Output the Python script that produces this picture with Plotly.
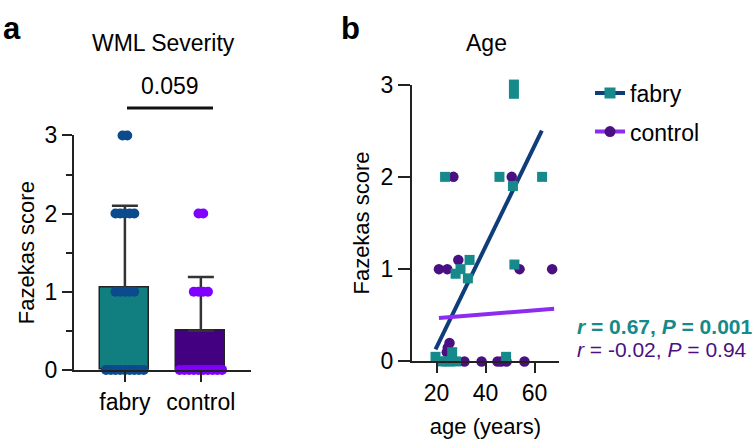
import plotly.graph_objects as go

FONT = "Liberation Sans, Arial, Helvetica, sans-serif"

# ---------- Panel a data ----------
groups = ["fabry", "control"]
group_mean = [1.05, 0.5]
group_sd = [1.05, 0.69]
fabry_scores_a = [3, 3, 2, 2, 2, 2, 2, 1, 1, 1, 1, 1, 0, 0, 0, 0, 0, 0, 0, 0, 0]
control_scores_a = [2, 2, 1, 1, 1, 1, 0, 0, 0, 0, 0, 0, 0, 0, 0, 0]
p_value_text = "0.059"

# ---------- Panel b data ----------
fabry_age = [51.6, 51.6, 23.5, 45.7, 51.2, 63.1, 33.5, 29.8, 27.8, 32.8, 51.8,
             19.6, 48.4, 26.4, 22.0, 24.0, 25.5, 28.0]
fabry_fz = [3.0, 2.9, 2.0, 2.0, 1.9, 2.0, 1.1, 1.0, 0.95, 0.9, 1.05,
            0.05, 0.05, 0.1, 0.0, 0.0, 0.0, 0.0]
control_age = [26.9, 50.7, 21.0, 24.4, 28.9, 53.9, 67.2, 25.3, 24.6, 24.2,
               31.4, 38.4, 44.9, 46.4, 48.6, 55.9]
control_fz = [2.0, 2.0, 1.0, 1.0, 1.1, 1.0, 1.0, 0.2, 0.15, 0.1,
              0.0, 0.0, 0.0, 0.0, 0.0, 0.0]
fabry_fit_x = [19.6, 63.0]
fabry_fit_y = [0.13, 2.5]
control_fit_x = [21.0, 68.0]
control_fit_y = [0.47, 0.57]
fabry_stats = "<b><i>r</i> = 0.67, <i>P</i> = 0.001</b>"
control_stats = "<i>r</i> = -0.02, <i>P</i> = 0.94"

# colours
C_FAB_BAR = "#117f7f"
C_CON_BAR = "#430080"
C_FAB_DOT = "#0b4a8c"
C_CON_DOT = "#8000ff"
C_FAB_SQ = "#168a8a"
C_FAB_LINE = "#0f3d7a"
C_CON_PT = "#4a1082"
C_CON_LINE = "#8c2cf0"
AX = "#222222"
TXT = "#000000"


def swarm(scores, center, step=0.062):
    xs, ys = [], []
    levels = {}
    for s in scores:
        levels.setdefault(s, 0)
        levels[s] += 1
    for s, n in levels.items():
        for i in range(n):
            xs.append(center + (i - (n - 1) / 2) * step)
            ys.append(s)
    return xs, ys


fig = go.Figure()

# bars with error bars
fig.add_trace(go.Bar(
    x=[0, 1], y=group_mean, width=0.645,
    marker=dict(color=[C_FAB_BAR, C_CON_BAR], line=dict(color=AX, width=1.5)),
    error_y=dict(type="data", symmetric=False, array=group_sd,
                 arrayminus=[0, 0], color="#333333", thickness=2.5, width=13),
    xaxis="x", yaxis="y", showlegend=False, cliponaxis=False,
))
fx, fy = swarm(fabry_scores_a, 0)
fig.add_trace(go.Scatter(x=fx, y=fy, mode="markers",
                         marker=dict(color=C_FAB_DOT, size=10, line=dict(width=0)),
                         xaxis="x", yaxis="y", showlegend=False, cliponaxis=False))
cx, cy = swarm(control_scores_a, 1)
fig.add_trace(go.Scatter(x=cx, y=cy, mode="markers",
                         marker=dict(color=C_CON_DOT, size=10, line=dict(width=0)),
                         xaxis="x", yaxis="y", showlegend=False, cliponaxis=False))

# panel b
fig.add_trace(go.Scatter(x=fabry_fit_x, y=fabry_fit_y, mode="lines",
                         line=dict(color=C_FAB_LINE, width=4),
                         xaxis="x2", yaxis="y2", showlegend=False))
fig.add_trace(go.Scatter(x=control_fit_x, y=control_fit_y, mode="lines",
                         line=dict(color=C_CON_LINE, width=4),
                         xaxis="x2", yaxis="y2", showlegend=False))
fig.add_trace(go.Scatter(x=control_age, y=control_fz, mode="markers",
                         marker=dict(color=C_CON_PT, size=10.5, symbol="circle", line=dict(width=0)),
                         xaxis="x2", yaxis="y2", showlegend=False, cliponaxis=False))
fig.add_trace(go.Scatter(x=fabry_age, y=fabry_fz, mode="markers",
                         marker=dict(color=C_FAB_SQ, size=10, symbol="square", line=dict(width=0)),
                         xaxis="x2", yaxis="y2", showlegend=False, cliponaxis=False))
# legend entries (two legends so each row can be placed)
fig.add_trace(go.Scatter(x=[None], y=[None], mode="lines+markers", name="fabry",
                         line=dict(color=C_FAB_LINE, width=4),
                         marker=dict(color=C_FAB_SQ, size=11, symbol="square"),
                         xaxis="x2", yaxis="y2", legend="legend"))
fig.add_trace(go.Scatter(x=[None], y=[None], mode="lines+markers", name="control",
                         line=dict(color=C_CON_LINE, width=4),
                         marker=dict(color=C_CON_PT, size=11, symbol="circle"),
                         xaxis="x2", yaxis="y2", legend="legend2"))

W, H = 756, 446
tickfont = dict(family=FONT, size=23, color=TXT)
axis_common = dict(showline=True, linecolor=AX, linewidth=2, ticks="outside",
                   tickcolor=AX, tickwidth=2, showgrid=False, zeroline=False,
                   tickfont=tickfont)
title_font = dict(family=FONT, size=22, color=TXT)
legend_common = dict(xanchor="left", yanchor="middle",
                     font=dict(family=FONT, size=23, color=TXT),
                     bgcolor="rgba(0,0,0,0)", itemwidth=30)

fig.update_layout(
    width=W, height=H, margin=dict(l=0, r=0, t=0, b=0),
    paper_bgcolor="white", plot_bgcolor="white",
    font=dict(family=FONT, color=TXT),
    xaxis=dict(domain=[74 / W, 251 / W], range=[-0.67, 1.66],
               tickmode="array", tickvals=[0, 1], ticktext=groups, ticklen=10,
               anchor="y", **axis_common),
    yaxis=dict(domain=[1 - 379 / H, 1 - 130 / H], range=[0, 3],
               tickmode="array", tickvals=[0, 1, 2, 3], ticklen=10,
               minor=dict(tickmode="array", tickvals=[0.5, 1.5, 2.5], ticklen=6,
                          tickcolor=AX, tickwidth=2, ticks="outside"),
               title=dict(text="Fazekas score", font=title_font, standoff=4),
               anchor="x", **axis_common),
    xaxis2=dict(domain=[412 / W, 559 / W], range=[10, 70],
                tickmode="array", tickvals=[20, 40, 60], ticklen=10,
                title=dict(text="age (years)", font=title_font, standoff=14),
                anchor="y2", **axis_common),
    yaxis2=dict(domain=[1 - 370 / H, 1 - 76 / H], range=[0, 3],
                tickmode="array", tickvals=[0, 1, 2, 3], ticklen=12,
                title=dict(text="Fazekas score", font=title_font, standoff=5),
                anchor="x2", **axis_common),
    legend=dict(x=590 / W, y=1 - 85 / H, **legend_common),
    legend2=dict(x=590 / W, y=1 - 126 / H, **legend_common),
    bargap=0,
)

fig.add_shape(type="line", xref="paper", yref="paper",
              x0=127 / W, x1=213 / W, y0=1 - 101 / H, y1=1 - 101 / H,
              line=dict(color="#111", width=3))

annots = [
    dict(text="<b>a</b>", x=1 / W, y=1 - 16 / H, size=31, color=TXT, xanchor="left"),
    dict(text="<b>b</b>", x=339 / W, y=1 - 16 / H, size=31, color=TXT, xanchor="left"),
    dict(text="WML Severity", x=163 / W, y=1 - 32 / H, size=23, color=TXT, xanchor="center"),
    dict(text="Age", x=486 / W, y=1 - 32 / H, size=23, color=TXT, xanchor="center"),
    dict(text=p_value_text, x=170 / W, y=1 - 78 / H, size=23, color=TXT, xanchor="center"),
    dict(text=fabry_stats, x=575 / W, y=1 - 333 / H, size=21, color=C_FAB_SQ, xanchor="left"),
    dict(text=control_stats, x=575 / W, y=1 - 357 / H, size=21, color=C_CON_PT, xanchor="left"),
]
for a in annots:
    fig.add_annotation(text=a["text"], x=a["x"], y=a["y"], xref="paper", yref="paper",
                       xanchor=a["xanchor"], yanchor="middle", showarrow=False,
                       font=dict(family=FONT, size=a["size"], color=a["color"]))

fig.write_html("out.html")
